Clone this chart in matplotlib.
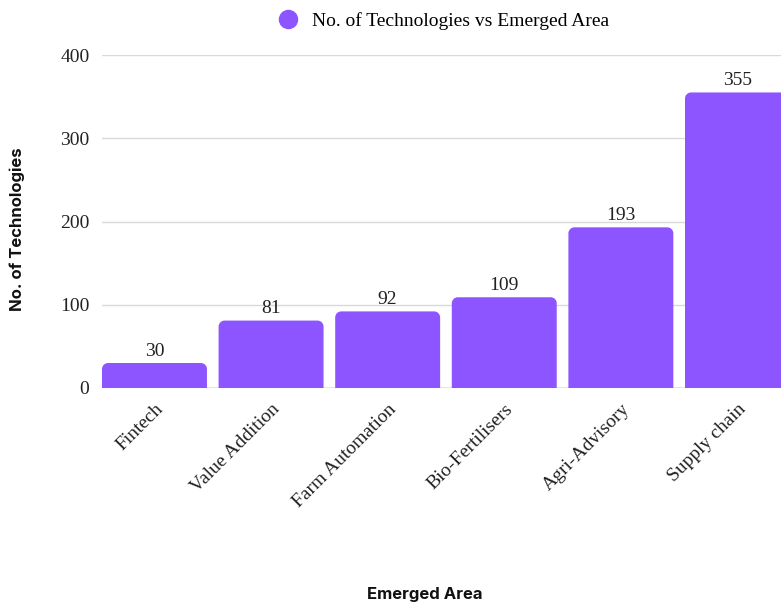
import matplotlib
matplotlib.use("Agg")
import matplotlib.pyplot as plt
from matplotlib.path import Path
from matplotlib.patches import PathPatch
from matplotlib.lines import Line2D

categories = ["Fintech", "Value Addition", "Farm Automation", "Bio-Fertilisers",
              "Agri-Advisory", "Supply chain"]
counts = [30, 81, 92, 109, 193, 355]
y_ticks = [0, 100, 200, 300, 400]
series_name = "No. of Technologies vs Emerged Area"

BAR_COLOR = "#8C55FF"
W, H = 781, 605
fig = plt.figure(figsize=(W / 100, H / 100), dpi=100)

bar_w = 0.9
step_px = 116.6
left_px, top_px, bottom_px = 102, 55, 388
x_lo, x_hi = -bar_w / 2, len(categories) - 0.3
right_px = left_px + (x_hi - x_lo) * step_px
ax = fig.add_axes([left_px / W, 1 - bottom_px / H,
                   (right_px - left_px) / W, (bottom_px - top_px) / H])
ax.set_xlim(x_lo, x_hi)
ax.set_ylim(0, 400)

serif = "Liberation Serif"
sans = "Inter"
fs = 14

bars = ax.bar(range(len(categories)), counts, width=bar_w, color=BAR_COLOR, zorder=3)

# rounded top corners: convert a pixel radius into data units per axis
px_per_y = (bottom_px - top_px) / 400
r_px = 6
rx, ry = r_px / step_px, r_px / px_per_y
k = 0.5523
for b, v in zip(bars, counts):
    x0, w, h = b.get_x(), b.get_width(), b.get_height()
    x1 = x0 + w
    verts = [(x0, 0), (x0, h - ry),
             (x0, h - ry + k * ry), (x0 + rx - k * rx, h), (x0 + rx, h),
             (x1 - rx, h),
             (x1 - rx + k * rx, h), (x1, h - ry + k * ry), (x1, h - ry),
             (x1, 0), (x0, 0)]
    codes = [Path.MOVETO, Path.LINETO,
             Path.CURVE4, Path.CURVE4, Path.CURVE4,
             Path.LINETO,
             Path.CURVE4, Path.CURVE4, Path.CURVE4,
             Path.LINETO, Path.CLOSEPOLY]
    b.set_visible(False)
    ax.add_patch(PathPatch(Path(verts, codes), facecolor=BAR_COLOR,
                           edgecolor="none", zorder=3))
    ax.text(x0 + w / 2, h + 4, str(v), ha="center", va="bottom", fontsize=fs,
            family=serif, color="#222222", zorder=4)

ax.set_yticks(y_ticks)
ax.set_yticklabels([str(v) for v in y_ticks], family=serif, fontsize=fs,
                   color="#222222")
ax.grid(axis="y", color="#d9d9d9", linewidth=1, zorder=0)
ax.axhline(0, color="#999999", linewidth=1, zorder=2)
for s in ax.spines.values():
    s.set_visible(False)
ax.tick_params(axis="both", length=0)
ax.tick_params(axis="x", pad=9)
ax.tick_params(axis="y", pad=9)

ax.set_xticks(range(len(categories)))
ax.set_xticklabels(categories, rotation=45, ha="right", rotation_mode="anchor",
                   family=serif, fontsize=fs, color="#222222")

fig.text(425 / W, 1 - 595 / H, "Emerged Area", ha="center", va="center",
         family=sans, fontweight="bold", fontsize=12, color="#111111")
fig.text(17 / W, 1 - 229 / H, "No. of Technologies", ha="center", va="center",
         rotation=90, family=sans, fontweight="bold", fontsize=12, color="#111111")

handle = Line2D([], [], marker="o", linestyle="none", markersize=13,
                markerfacecolor=BAR_COLOR, markeredgecolor=BAR_COLOR)
fig.legend([handle], [series_name], loc="center", bbox_to_anchor=(439 / W, 1 - 21 / H),
           frameon=False, prop={"family": serif, "size": fs}, handletextpad=0.2,
           borderaxespad=0)

fig.savefig("out.png", dpi=100)
